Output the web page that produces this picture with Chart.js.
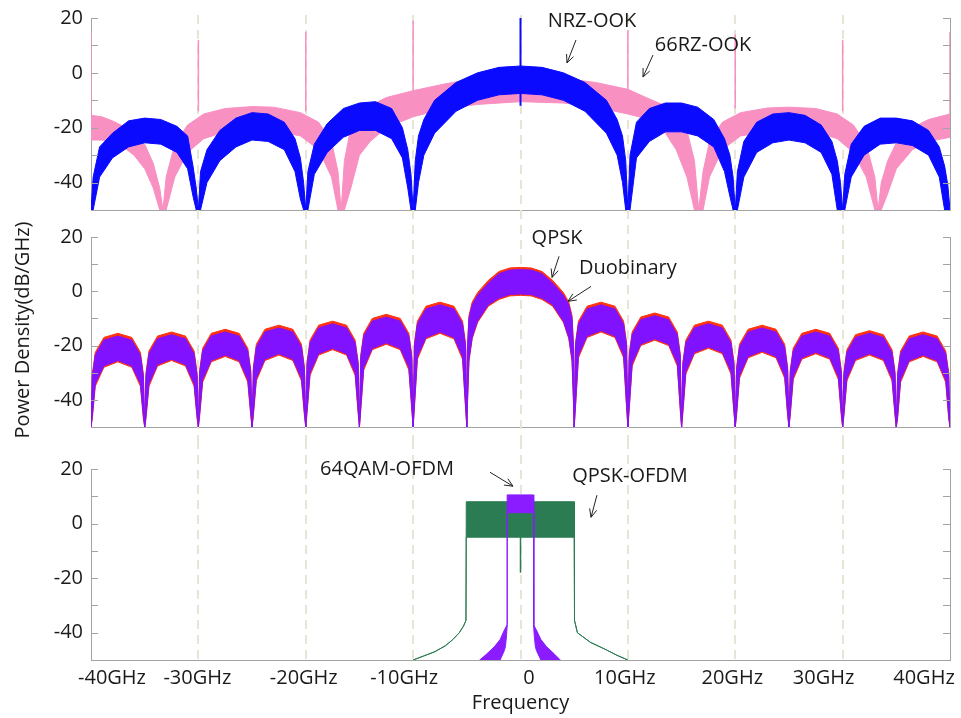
<!DOCTYPE html>
<html>
<head>
<meta charset="utf-8">
<title>Modulation spectra</title>
<script src="https://cdn.jsdelivr.net/npm/chart.js@4.4.1/dist/chart.umd.min.js"></script>
<style>
  html, body { margin: 0; padding: 0; background: #fff; }
  #wrap { position: relative; width: 961px; height: 718px; overflow: hidden; }
  #wrap canvas { position: absolute; left: 0; }
  #ytitle {
    position: absolute; left: -128px; top: 316px; width: 300px;
    text-align: center; font: 20px 'Open Sans'; line-height: 28px;
    color: #1a1a1a; white-space: nowrap; transform: rotate(-90deg);
  }
</style>
</head>
<body>
<div id="wrap">
  <canvas id="topChart" width="961" height="225" style="top:0"></canvas>
  <canvas id="midChart" width="961" height="215" style="top:225px"></canvas>
  <canvas id="lowChart" width="961" height="278" style="top:440px"></canvas>
  <div id="ytitle">Power Density(dB/GHz)</div>
</div>
<script>
// x axis ticks (GHz) and their labels
const freqTicks = [-40, -30, -20, -10, 0, 10, 20, 30, 40]
const freqTickLabels = ["-40GHz", "-30GHz", "-20GHz", "-10GHz", "0", "10GHz", "20GHz", "30GHz", "40GHz"]
const gridFreqs = [-30, -20, -10, 0, 10, 20, 30]

// ---- top panel: NRZ-OOK (blue) and 66RZ-OOK (pink), upper/lower envelope in dB/GHz
const nrzFreq = [
    -40, -39.8, -39.2, -38, -36.5, -35, -33.5, -32, -31, -30.5, -30.2, -30,
    -29.8, -29.2, -28, -26.5, -25, -23.5, -22, -21, -20.5, -20.2, -20,
    -19.8, -19.2, -18, -16.5, -15, -13.5, -12, -11, -10.5, -10.2, -10,
    -9.8, -9.5, -9, -8, -6, -4, -2, 0, 2, 4, 6, 8, 9, 9.5, 9.8, 10,
    10.2, 10.8, 12, 13.5, 15, 16.5, 18, 19, 19.5, 19.8, 20,
    20.2, 20.8, 22, 23.5, 25, 26.5, 28, 29, 29.5, 29.8, 30,
    30.2, 30.8, 32, 33.5, 35, 36.5, 38, 39, 39.5, 39.8, 40
]
const nrzUpper = [
    -50, -38, -27, -22, -17.5, -16.5, -17, -19.5, -23, -34, -42, -50,
    -36, -28, -21, -16.5, -14.5, -15, -18, -24, -31, -40, -50,
    -36, -26, -18.5, -13, -11, -10.5, -13, -20, -28, -37, -50,
    -32, -23, -17, -10, -3.5, 0, 2, 2.5, 2, 0, -3.5, -10, -17, -23, -32, -50,
    -30, -18, -13, -11, -11, -12.5, -17, -24, -30, -38, -50,
    -36, -25, -18, -15, -14.5, -15.5, -19, -25, -32, -40, -50,
    -37, -26, -19.5, -16.5, -16.5, -17.5, -21, -27, -34, -41, -50
]
const nrzLower = [
    -50, -50, -38, -31, -27, -25.5, -26, -29, -35, -45, -50, -50,
    -50, -40, -32, -27, -24.5, -25, -28, -36, -46, -50, -50,
    -50, -37, -29, -23.5, -21, -21, -24, -31, -42, -50, -50,
    -50, -40, -30, -22, -14, -10, -8, -7.5, -8, -10, -14, -22, -30, -40, -50, -50,
    -50, -31, -25, -21.5, -21.5, -23, -27, -36, -45, -50, -50,
    -50, -38, -29, -25.5, -24.5, -25.5, -29, -37, -50, -50, -50,
    -50, -38, -30, -26, -25.5, -26.5, -30, -38, -50, -50, -50
]
const nrzToneFreq = [0]
const nrzToneTop = [20]
const nrzToneBase = [-12]

const rzFreq = [
    -40, -39, -38, -37, -36, -35, -34.2, -33.6, -33.3,
    -33, -32.2, -31, -29.5, -27.5, -25, -23, -20.5, -18.8, -17.6, -17, -16.7,
    -16.4, -15.8, -15, -14, -12.5, -10, -7, -4, 0, 4, 7, 10, 12, 13.5, 14.5, 15.5, 16.2, 16.6,
    17, 17.6, 18.8, 20.5, 23, 25, 27.5, 29.5, 31, 32.2, 33, 33.3,
    33.6, 34.2, 35, 36.5, 38, 40
]
const rzUpper = [
    -15.5, -16, -17.5, -19.5, -22, -26, -33, -42, -50,
    -38, -26, -19, -15, -13, -12.3, -12.5, -14.5, -18, -25, -36, -50,
    -32, -20, -15, -12, -9, -6.5, -4, -2, -1, -2, -3.5, -6, -9.5, -12, -15, -21, -32, -50,
    -36, -25, -18, -14.5, -12.8, -12.5, -13, -15, -19, -26, -38, -50,
    -40, -32, -25.5, -20, -17, -15
]
const rzLower = [
    -24.5, -24.5, -25.5, -27, -30, -35, -42, -50, -50,
    -50, -38, -29, -24, -21.5, -20.5, -21, -23, -28, -38, -50, -50,
    -50, -42, -30, -25, -20, -16, -13, -11.5, -10.5, -11, -12.5, -15, -17, -22, -28, -38, -50, -50,
    -50, -38, -28, -23, -21.5, -21, -21.5, -24, -29, -38, -50, -50,
    -50, -44, -35, -28, -25, -23.5
]
const rzToneFreq = [-40, -30, -20, -10, 10, 20, 30, 40]
const rzToneTop = [15, 12, 15, 19, 15.5, 14, 12, 15]
const rzToneBase = [-16, -14, -14, -7, -6, -13, -14, -16]

// ---- middle panel: QPSK (violet) and Duobinary (red)
const midFreq = [
    -40, -39.88, -39.6, -38.8, -37.5, -36.2, -35.4, -35.12,
    -35, -34.88, -34.6, -33.8, -32.5, -31.2, -30.4, -30.12,
    -30, -29.88, -29.6, -28.8, -27.5, -26.2, -25.4, -25.12,
    -25, -24.88, -24.6, -23.8, -22.5, -21.2, -20.4, -20.12,
    -20, -19.88, -19.6, -18.8, -17.5, -16.2, -15.4, -15.12,
    -15, -14.88, -14.6, -13.8, -12.5, -11.2, -10.4, -10.12,
    -10, -9.88, -9.6, -8.8, -7.5, -6.2, -5.4, -5.12,
    -5, -4.95, -4.8, -4.5, -4, -3, -2, -1, 0, 1, 2, 3, 4, 4.5, 4.8, 4.95,
    5, 5.12, 5.4, 6.2, 7.5, 8.8, 9.6, 9.88,
    10, 10.12, 10.4, 11.2, 12.5, 13.8, 14.6, 14.88,
    15, 15.12, 15.4, 16.2, 17.5, 18.8, 19.6, 19.88,
    20, 20.12, 20.4, 21.2, 22.5, 23.8, 24.6, 24.88,
    25, 25.12, 25.4, 26.2, 27.5, 28.8, 29.6, 29.88,
    30, 30.12, 30.4, 31.2, 32.5, 33.8, 34.6, 34.88,
    35, 35.12, 35.4, 36.2, 37.5, 38.8, 39.6, 39.88,
    40
]
const qpskUpper = [
    -50, -31.5, -23.5, -18, -16.5, -18, -23.5, -31.5,
    -50, -31, -23, -17.5, -16, -17.5, -23, -31,
    -50, -30, -22, -16.5, -15, -16.5, -22, -30,
    -50, -29, -20.5, -15, -13.5, -15, -20.5, -29,
    -50, -27, -19, -13.5, -12, -13.5, -19, -27,
    -50, -24.5, -16.5, -11, -9.5, -11, -16.5, -24.5,
    -50, -20, -12, -6.5, -5, -6.5, -12, -20,
    -50, -22, -10, -5, -1.5, 3, 6.5, 7.8, 8, 7.8, 6.5, 3, -1.5, -5, -10, -22,
    -50, -20, -12, -6.5, -5, -6.5, -12, -20,
    -50, -24, -16, -10.5, -9, -10.5, -16, -24,
    -50, -27, -19, -13.5, -12, -13.5, -19, -27,
    -50, -29, -20.5, -15, -13.5, -15, -20.5, -29,
    -50, -30, -22, -16.5, -15, -16.5, -22, -30,
    -50, -30.5, -22.5, -17, -15.5, -17, -22.5, -30.5,
    -50, -31, -23, -17.5, -16, -17.5, -23, -31,
    -50
]
const qpskLower = [
    -50, -46, -34, -27.5, -25.5, -27.5, -34, -46,
    -50, -46, -34, -27, -25, -27, -34, -46,
    -50, -45, -32.5, -25.5, -23.5, -25.5, -32.5, -45,
    -50, -45, -32, -25, -23, -25, -32, -45,
    -50, -44, -30, -23, -21, -23, -30, -44,
    -50, -43, -28, -21, -19, -21, -28, -43,
    -50, -42, -24, -17, -15, -17, -24, -42,
    -50, -42, -25, -17, -11, -5, -2.5, -1.2, -1, -1.2, -2.5, -5, -11, -17, -25, -42,
    -50, -42, -23.5, -16.5, -14.5, -16.5, -23.5, -42,
    -50, -43, -26.5, -19.5, -17.5, -19.5, -26.5, -43,
    -50, -44, -29.5, -22.5, -20.5, -22.5, -29.5, -44,
    -50, -45, -31, -24, -22, -24, -31, -45,
    -50, -45, -31.5, -24.5, -22.5, -24.5, -31.5, -45,
    -50, -45, -32, -25, -23, -25, -32, -45,
    -50, -46, -32.5, -25.5, -23.5, -25.5, -32.5, -46,
    -50
]
const duoUpper = [
    -50, -30.5, -22.5, -17, -15.5, -17, -22.5, -30.5,
    -50, -30, -22, -16.5, -15, -16.5, -22, -30,
    -50, -29, -21, -15.5, -14, -15.5, -21, -29,
    -50, -28, -19.5, -14, -12.5, -14, -19.5, -28,
    -50, -26, -18, -12.5, -11, -12.5, -18, -26,
    -50, -23.5, -15.5, -10, -8.5, -10, -15.5, -23.5,
    -50, -19, -11, -5.5, -4, -5.5, -11, -19,
    -50, -21, -9, -4, -0.5, 4, 7.3, 8.6, 8.8, 8.6, 7.3, 4, -0.5, -4, -9, -21,
    -50, -19, -11, -5.5, -4, -5.5, -11, -19,
    -50, -23, -15, -9.5, -8, -9.5, -15, -23,
    -50, -26, -18, -12.5, -11, -12.5, -18, -26,
    -50, -28, -19.5, -14, -12.5, -14, -19.5, -28,
    -50, -29, -21, -15.5, -14, -15.5, -21, -29,
    -50, -29.5, -21.5, -16, -14.5, -16, -21.5, -29.5,
    -50, -30, -22, -16.5, -15, -16.5, -22, -30,
    -50
]
const duoLower = [
    -50, -47, -35, -28, -26, -28, -35, -47,
    -50, -47, -35, -27.5, -25.5, -27.5, -35, -47,
    -50, -46, -33.5, -26, -24, -26, -33.5, -46,
    -50, -46, -33, -25.5, -23.5, -25.5, -33, -46,
    -50, -45, -31, -23.5, -21.5, -23.5, -31, -45,
    -50, -44, -29, -21.5, -19.5, -21.5, -29, -44,
    -50, -43, -25, -17.5, -15.5, -17.5, -25, -43,
    -50, -43, -26, -17.5, -11.5, -5.5, -3, -1.7, -1.5, -1.7, -3, -5.5, -11.5, -17.5, -26, -43,
    -50, -43, -24.5, -17, -15, -17, -24.5, -43,
    -50, -44, -27.5, -20, -18, -20, -27.5, -44,
    -50, -45, -30.5, -23, -21, -23, -30.5, -45,
    -50, -46, -32, -24.5, -22.5, -24.5, -32, -46,
    -50, -46, -32.5, -25, -23, -25, -32.5, -46,
    -50, -46, -33, -25.5, -23.5, -25.5, -33, -46,
    -50, -47, -33.5, -26, -24, -26, -33.5, -47,
    -50
]

// ---- bottom panel: QPSK-OFDM (green) and 64QAM-OFDM (violet)
const ofdmFreq = [-10, -9, -8, -7, -6.3, -5.7, -5.3, -5.08, -5.05, 5.0, 5.03, 5.3, 6.5, 8, 9, 10]
const ofdmUpper = [-50, -48.5, -47, -44.8, -42.5, -40, -37.5, -35.5, 8, 8, -35.5, -40, -43.5, -46.3, -48.3, -50]
const ofdmLower = [-50, -48.5, -47, -44.8, -42.5, -40, -37.5, -35.5, -5, -5, -35.5, -40, -43.5, -46.3, -48.3, -50]
const ofdmNotchFreq = [0]
const ofdmNotchTop = [-5]
const ofdmNotchBase = [-18]

const qamFreq = [-3.8, -3.2, -2.4, -1.9, -1.5, -1.4, -1.3, -1.25, -1.24, 1.22, 1.23, 1.28, 1.38, 1.48, 1.9, 2.4, 3.2, 3.7]
const qamUpper = [-50, -48, -45, -42.5, -39, -38.3, -37.5, -37, 10.5, 10.5, -37, -37.5, -38.3, -39, -42.5, -45, -48, -50]
const qamLower = [-50, -50, -50, -50, -46.5, -45, -41, -38, 4, 4, -38, -41, -45, -46.5, -50, -50, -50, -50]

const colors = {
    nrz: "#0a0aff",
    rz: "#f890c2",
    qpsk: "#8012ff",
    duo: "#ff3210",
    ofdm: "#2b7c52",
    qam: "#8a1cff"
}
const axisGray = "#a3a3a3"
const gridBeige = "#e9e5d6"
const textColor = "#1a1a1a"

Chart.defaults.font.family = "'Open Sans', sans-serif"

function addBand(list, xs, up, lo, color) {
    list.push({
        data: xs.map((f, i) => ({ x: f, y: up[i] })),
        borderColor: color, backgroundColor: color, borderWidth: 1, fill: false
    })
    list.push({
        data: xs.map((f, i) => ({ x: f, y: lo[i] })),
        borderColor: color, backgroundColor: color, borderWidth: 1, fill: "-1"
    })
}

function addTones(list, xs, bases, tops, color, width) {
    const pts = []
    xs.forEach((f, i) => {
        pts.push({ x: f, y: bases[i] }, { x: f, y: tops[i] }, { x: f, y: null })
    })
    list.push({ data: pts, borderColor: color, borderWidth: width, fill: false, spanGaps: false })
}

function drawArrow(ctx, x1, y1, x2, y2) {
    const ang = Math.atan2(y2 - y1, x2 - x1)
    const head = 9
    ctx.beginPath()
    ctx.moveTo(x1, y1)
    ctx.lineTo(x2, y2)
    ctx.moveTo(x2 - head * Math.cos(ang - 0.42), y2 - head * Math.sin(ang - 0.42))
    ctx.lineTo(x2, y2)
    ctx.lineTo(x2 - head * Math.cos(ang + 0.42), y2 - head * Math.sin(ang + 0.42))
    ctx.stroke()
}

// pixel shift of each x label from its tick
const xLabelShift = [21, -1, -2, -9, 8.5, -3, -3, -19, -26]

const framePlugin = {
    id: "frame",
    beforeDatasetsDraw(chart, args, opts) {
        const { ctx, chartArea } = chart
        const xs = chart.scales.x
        const yEnd = opts.gridToArea ? chartArea.bottom : chart.height
        ctx.save()
        ctx.strokeStyle = gridBeige
        ctx.lineWidth = 2
        ctx.setLineDash([9, 6])
        gridFreqs.forEach(f => {
            const px = Math.round(xs.getPixelForValue(f))
            ctx.beginPath()
            ctx.moveTo(px, opts.gridFrom || 0)
            ctx.lineTo(px, yEnd)
            ctx.stroke()
        })
        ctx.restore()
    },
    afterDraw(chart, args, opts) {
        const { ctx, chartArea } = chart
        const xs = chart.scales.x
        const ys = chart.scales.y
        ctx.save()

        // right axis and inward tick marks on both sides
        ctx.strokeStyle = axisGray
        ctx.lineWidth = 1
        ctx.beginPath()
        ctx.moveTo(chartArea.right + 0.5, chartArea.top)
        ctx.lineTo(chartArea.right + 0.5, chartArea.bottom)
        ys.ticks.forEach(t => {
            if (t.value <= -50) return
            const py = Math.round(ys.getPixelForValue(t.value)) + 0.5
            ctx.moveTo(chartArea.left, py)
            ctx.lineTo(chartArea.left + 7, py)
            ctx.moveTo(chartArea.right, py)
            ctx.lineTo(chartArea.right - 7, py)
        })
        ctx.stroke()

        // curve labels with arrows
        ctx.fillStyle = textColor
        ctx.strokeStyle = "#222"
        ctx.lineWidth = 1
        ctx.font = "20px 'Open Sans'"
        ctx.textAlign = "center"
        ctx.textBaseline = "middle"
        ;(opts.notes || []).forEach(n => {
            ctx.fillText(n.text, xs.getPixelForValue(n.at[0]), ys.getPixelForValue(n.at[1]))
            drawArrow(ctx,
                xs.getPixelForValue(n.from[0]), ys.getPixelForValue(n.from[1]),
                xs.getPixelForValue(n.to[0]), ys.getPixelForValue(n.to[1]))
        })

        if (opts.xLabels) {
            freqTicks.forEach((v, i) => {
                ctx.fillText(freqTickLabels[i], xs.getPixelForValue(v) + xLabelShift[i], chartArea.bottom + 18)
            })
        }
        ctx.restore()
    }
}

function makeChart(id, datasets, cfg) {
    return new Chart(document.getElementById(id), {
        type: "line",
        data: { datasets: datasets },
        options: {
            responsive: false,
            animation: false,
            events: [],
            layout: { padding: { top: cfg.padTop, right: 11, left: 0, bottom: 0 } },
            elements: { point: { radius: 0 }, line: { tension: 0 } },
            plugins: {
                legend: { display: false },
                tooltip: { enabled: false },
                frame: cfg.frame
            },
            scales: {
                x: {
                    type: "linear",
                    min: -40,
                    max: 40,
                    grid: { display: false, drawTicks: false },
                    border: { display: true, color: axisGray, width: 1 },
                    ticks: { display: false },
                    title: cfg.xTitle || { display: false },
                    afterFit: s => {
                        s.height = cfg.xHeight
                        s.paddingLeft = 0
                        s.paddingRight = 0
                    }
                },
                y: {
                    min: -50,
                    max: 20,
                    grid: { display: false, drawTicks: false },
                    border: { display: true, color: axisGray, width: 1 },
                    ticks: {
                        stepSize: 10,
                        autoSkip: false,
                        padding: 8,
                        color: textColor,
                        font: { size: 20 },
                        callback: v => (v % 20 === 0 && v > -50) ? String(v) : ""
                    },
                    // fixed gutter; let labels overhang the plot edges
                    afterFit: s => {
                        s.width = 91
                        s.paddingTop = 0
                        s.paddingBottom = 0
                    }
                }
            }
        },
        plugins: [framePlugin]
    })
}

// top panel
const topSets = []
addTones(topSets, nrzToneFreq, nrzToneBase, nrzToneTop, colors.nrz, 2)
addBand(topSets, nrzFreq, nrzUpper, nrzLower, colors.nrz)
addTones(topSets, rzToneFreq, rzToneBase, rzToneTop, colors.rz, 1.5)
addBand(topSets, rzFreq, rzUpper, rzLower, colors.rz)
makeChart("topChart", topSets, {
    padTop: 18, xHeight: 15,
    frame: {
        gridFrom: 15,
        notes: [
            { text: "NRZ-OOK", at: [6.66, 18.9], from: [5.17, 12], to: [4.33, 3.6] },
            { text: "66RZ-OOK", at: [17.0, 10.2], from: [12.34, 6.5], to: [11.41, -1.5] }
        ]
    }
})

// middle panel
const midSets = []
addBand(midSets, midFreq, qpskUpper, qpskLower, colors.qpsk)
addBand(midSets, midFreq, duoUpper, duoLower, colors.duo)
makeChart("midChart", midSets, {
    padTop: 12, xHeight: 13,
    frame: {
        notes: [
            { text: "QPSK", at: [3.4, 19.5], from: [3.59, 12.9], to: [2.94, 5.1] },
            { text: "Duobinary", at: [10.0, 8.5], from: [6.57, 1.8], to: [4.42, -3.7] }
        ]
    }
})

// bottom panel
const lowSets = []
addBand(lowSets, qamFreq, qamUpper, qamLower, colors.qam)
addTones(lowSets, ofdmNotchFreq, ofdmNotchBase, ofdmNotchTop, colors.ofdm, 1.5)
addBand(lowSets, ofdmFreq, ofdmUpper, ofdmLower, colors.ofdm)
makeChart("lowChart", lowSets, {
    padTop: 29, xHeight: 58,
    xTitle: {
        display: true, text: "Frequency", color: textColor,
        font: { size: 20 }, padding: { top: 0, bottom: 3 }
    },
    frame: {
        gridToArea: true,
        xLabels: true,
        notes: [
            { text: "64QAM-OFDM", at: [-12.43, 19.9], from: [-2.84, 18.8], to: [-0.7, 13.7] },
            { text: "QPSK-OFDM", at: [10.2, 17.4], from: [7.12, 10.4], to: [6.57, 2.3] }
        ]
    }
})
</script>
</body>
</html>
